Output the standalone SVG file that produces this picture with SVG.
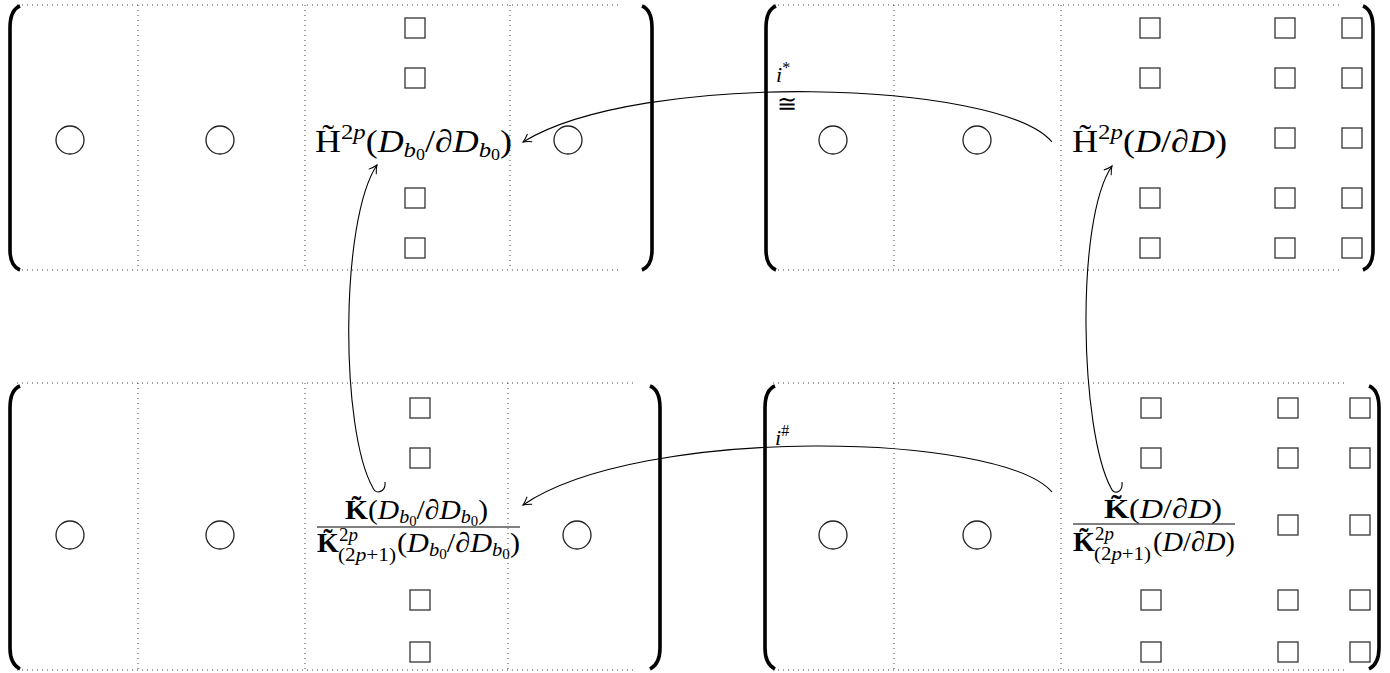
<svg xmlns="http://www.w3.org/2000/svg" width="1390" height="673" viewBox="0 0 1390 673">
<style>
.dot{stroke:#444;stroke-width:1;stroke-dasharray:1 4;fill:none}
.br{stroke:#000;stroke-width:3.6;fill:none}
.c{fill:#fff;stroke:#222;stroke-width:1.3}
.sq{fill:#fff;stroke:#333;stroke-width:1.3}
.t{font-family:"Liberation Serif","DejaVu Serif",serif;fill:#000}
.m{font-size:32px}
.f{font-size:28px}
.i{font-style:italic}
.b{font-weight:bold}
.arr{fill:none;stroke:#000;stroke-width:1.1}
</style>
<defs>
<marker id="ah" markerUnits="userSpaceOnUse" viewBox="-9 -6 10 12" markerWidth="10" markerHeight="12" refX="0" refY="0" orient="auto" overflow="visible">
<path d="M -8 -4.5 C -4.5 -2 -1.5 -0.5 0 0 C -1.5 0.5 -4.5 2 -8 4.5" fill="none" stroke="#000" stroke-width="1"/>
</marker>
</defs>

<g id="m-top-left">
<path class="dot" d="M17 5H622M17 270H622M138 5V270M305 5V270M510 5V270"/>
<path class="br" d="M20 6Q10 10 10 28V250Q10 266 20 270"/>
<path class="br" d="M642 6Q652 10 652 28V250Q652 266 642 270"/>
<circle class="c" cx="70" cy="140" r="14"/>
<circle class="c" cx="220" cy="140" r="14"/>
<circle class="c" cx="568" cy="140" r="14"/>
<rect class="sq" x="405" y="18" width="20" height="20"/>
<rect class="sq" x="405" y="68" width="20" height="20"/>
<rect class="sq" x="405" y="188" width="20" height="20"/>
<rect class="sq" x="405" y="238" width="20" height="20"/>
<text class="t m" x="315" y="152" textLength="197" lengthAdjust="spacingAndGlyphs">H&#x303;<tspan font-size="22" dy="-13">2</tspan><tspan class="i" font-size="22">p</tspan><tspan dy="13">(</tspan><tspan class="i">D</tspan><tspan class="i" font-size="22" dy="5">b</tspan><tspan font-size="16" dy="3">0</tspan><tspan dy="-8">/∂</tspan><tspan class="i">D</tspan><tspan class="i" font-size="22" dy="5">b</tspan><tspan font-size="16" dy="3">0</tspan><tspan dy="-8">)</tspan></text>
</g>

<g id="m-top-right">
<path class="dot" d="M773 5H1342M773 270H1342M894 5V270M1061 5V270"/>
<path class="br" d="M776 6Q766 10 766 28V250Q766 266 776 270"/>
<path class="br" d="M1363 6Q1373 10 1373 28V250Q1373 266 1363 270"/>
<circle class="c" cx="833" cy="140" r="14"/>
<circle class="c" cx="977" cy="140" r="14"/>
<rect class="sq" x="1140" y="18" width="20" height="20"/>
<rect class="sq" x="1140" y="68" width="20" height="20"/>
<rect class="sq" x="1140" y="238" width="20" height="20"/>
<rect class="sq" x="1140" y="188" width="20" height="20"/>
<rect class="sq" x="1275" y="18" width="20" height="20"/>
<rect class="sq" x="1275" y="68" width="20" height="20"/>
<rect class="sq" x="1275" y="128" width="20" height="20"/>
<rect class="sq" x="1275" y="188" width="20" height="20"/>
<rect class="sq" x="1275" y="238" width="20" height="20"/>
<rect class="sq" x="1342" y="18" width="20" height="20"/>
<rect class="sq" x="1342" y="68" width="20" height="20"/>
<rect class="sq" x="1342" y="128" width="20" height="20"/>
<rect class="sq" x="1342" y="188" width="20" height="20"/>
<rect class="sq" x="1342" y="238" width="20" height="20"/>
<text class="t m" x="1072" y="152" textLength="155" lengthAdjust="spacingAndGlyphs">H&#x303;<tspan font-size="22" dy="-13">2</tspan><tspan class="i" font-size="22">p</tspan><tspan dy="13">(</tspan><tspan class="i">D</tspan>/∂<tspan class="i">D</tspan>)</text>
</g>

<g id="m-bottom-left">
<path class="dot" d="M17 383H637M17 670H637M138 383V670M305 383V670M508 383V670"/>
<path class="br" d="M20 386Q10 390 10 408V648Q10 664 20 669"/>
<path class="br" d="M650 386Q660 390 660 408V648Q660 664 650 669"/>
<circle class="c" cx="70" cy="535" r="14"/>
<circle class="c" cx="220" cy="535" r="14"/>
<circle class="c" cx="577" cy="535" r="14"/>
<rect class="sq" x="410" y="398" width="20" height="20"/>
<rect class="sq" x="410" y="448" width="20" height="20"/>
<rect class="sq" x="410" y="590" width="20" height="20"/>
<rect class="sq" x="410" y="642" width="20" height="20"/>
<text class="t f" x="345" y="519" textLength="143" lengthAdjust="spacingAndGlyphs"><tspan class="b">K&#x303;</tspan>(<tspan class="i">D</tspan><tspan class="i" font-size="19" dy="4">b</tspan><tspan font-size="14" dy="3">0</tspan><tspan dy="-7">/∂</tspan><tspan class="i">D</tspan><tspan class="i" font-size="19" dy="4">b</tspan><tspan font-size="14" dy="3">0</tspan><tspan dy="-7">)</tspan></text>
<line x1="317" y1="527" x2="520" y2="527" stroke="#000" stroke-width="1.1"/>
<text class="t f b" x="317" y="552">K&#x303;</text>
<text class="t" x="339" y="541" font-size="19">2<tspan class="i">p</tspan></text>
<text class="t" x="338" y="561" font-size="19" textLength="58" lengthAdjust="spacingAndGlyphs">(2<tspan class="i">p</tspan>+1)</text>
<text class="t f" x="397" y="552" textLength="123" lengthAdjust="spacingAndGlyphs">(<tspan class="i">D</tspan><tspan class="i" font-size="19" dy="4">b</tspan><tspan font-size="14" dy="3">0</tspan><tspan dy="-7">/∂</tspan><tspan class="i">D</tspan><tspan class="i" font-size="19" dy="4">b</tspan><tspan font-size="14" dy="3">0</tspan><tspan dy="-7">)</tspan></text>
</g>

<g id="m-bottom-right">
<path class="dot" d="M773 383H1347M773 670H1347M894 383V670M1061 383V670"/>
<path class="br" d="M775 386Q765 390 765 408V648Q765 664 775 669"/>
<path class="br" d="M1369 386Q1379 390 1379 408V648Q1379 664 1369 669"/>
<circle class="c" cx="833" cy="535" r="14"/>
<circle class="c" cx="977" cy="535" r="14"/>
<rect class="sq" x="1141" y="398" width="20" height="20"/>
<rect class="sq" x="1141" y="448" width="20" height="20"/>
<rect class="sq" x="1141" y="590" width="20" height="20"/>
<rect class="sq" x="1141" y="642" width="20" height="20"/>
<rect class="sq" x="1278" y="398" width="20" height="20"/>
<rect class="sq" x="1278" y="448" width="20" height="20"/>
<rect class="sq" x="1278" y="515" width="20" height="20"/>
<rect class="sq" x="1278" y="590" width="20" height="20"/>
<rect class="sq" x="1278" y="642" width="20" height="20"/>
<rect class="sq" x="1350" y="398" width="20" height="20"/>
<rect class="sq" x="1350" y="448" width="20" height="20"/>
<rect class="sq" x="1350" y="515" width="20" height="20"/>
<rect class="sq" x="1350" y="590" width="20" height="20"/>
<rect class="sq" x="1350" y="642" width="20" height="20"/>
<text class="t f" x="1104" y="518" textLength="118" lengthAdjust="spacingAndGlyphs"><tspan class="b">K&#x303;</tspan>(<tspan class="i">D</tspan>/∂<tspan class="i">D</tspan>)</text>
<line x1="1073" y1="524" x2="1235" y2="524" stroke="#000" stroke-width="1.1"/>
<text class="t f b" x="1073" y="551">K&#x303;</text>
<text class="t" x="1095" y="540" font-size="19">2<tspan class="i">p</tspan></text>
<text class="t" x="1094" y="560" font-size="19" textLength="57" lengthAdjust="spacingAndGlyphs">(2<tspan class="i">p</tspan>+1)</text>
<text class="t f" x="1153" y="551" textLength="82" lengthAdjust="spacingAndGlyphs">(<tspan class="i">D</tspan>/∂<tspan class="i">D</tspan>)</text>
</g>

<g id="connectors">
<path class="arr" d="M1052 142C1000 80 640 70 523 142" marker-end="url(#ah)"/>
<path class="arr" d="M1052 492C1000 432 640 425 523 505" marker-end="url(#ah)"/>
<path class="arr" d="M385 482C386 492 376 495 373 488C340 430 340 220 377 165" marker-end="url(#ah)"/>
<path class="arr" d="M1122 482C1123 492 1114 496 1111 488C1080 430 1075 220 1112 166" marker-end="url(#ah)"/>
<text class="t" x="776" y="82" font-size="22"><tspan class="i">i</tspan><tspan font-size="16" dy="-9">*</tspan></text>
<text class="t" x="787" y="112" font-size="24" text-anchor="middle">≅</text>
<text class="t" x="775" y="445" font-size="22"><tspan class="i">i</tspan><tspan font-size="16" dy="-9">#</tspan></text>
</g>
</svg>
